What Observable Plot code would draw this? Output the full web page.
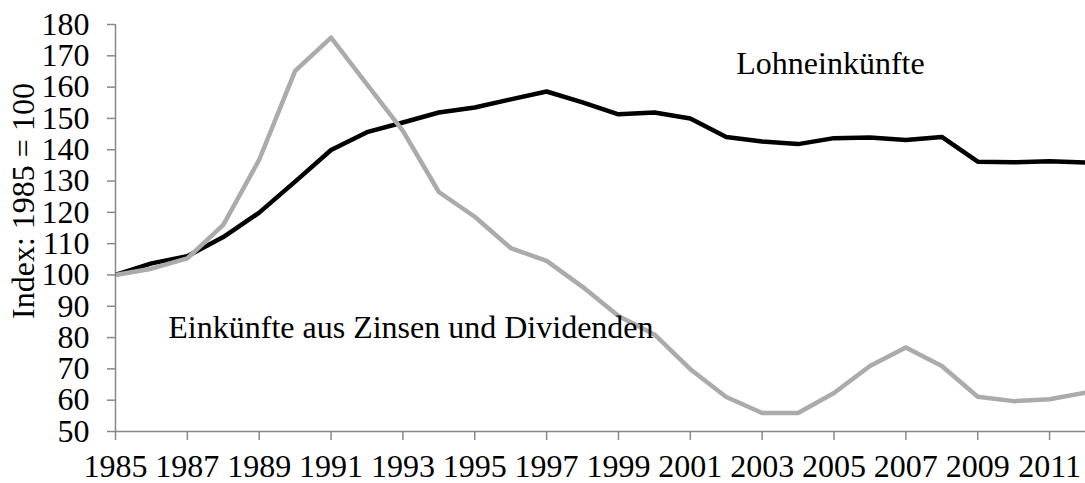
<!DOCTYPE html>
<html>
<head>
<meta charset="utf-8">
<script src="https://cdn.jsdelivr.net/npm/d3@7"></script>
<script src="https://cdn.jsdelivr.net/npm/@observablehq/plot@0.6"></script>
<style>
  html, body { margin: 0; padding: 0; background: #ffffff; }
</style>
</head>
<body>
<div id="chart"></div>
<script>
const years = [1985, 1986, 1987, 1988, 1989, 1990, 1991, 1992, 1993, 1994, 1995, 1996, 1997, 1998,
               1999, 2000, 2001, 2002, 2003, 2004, 2005, 2006, 2007, 2008, 2009, 2010, 2011, 2012];
const lohn = [100, 103.7, 106, 112.1, 119.9, 129.8, 139.9, 145.6, 148.7, 151.9, 153.5, 156.1, 158.6, 155.1,
              151.3, 151.9, 150.0, 144.1, 142.6, 141.8, 143.7, 143.9, 143.1, 144.1, 136.2, 136.0, 136.3, 135.9];
const zinsen = [100, 102, 105.3, 116, 136.8, 165.2, 175.8, 160.9, 146, 126.5, 118.6, 108.6, 104.5, 96.2,
                86.9, 81.0, 69.9, 61.0, 55.9, 55.9, 62.3, 70.9, 76.8, 70.9, 61.1, 59.7, 60.3, 62.4];
const xTicks = [1985, 1987, 1989, 1991, 1993, 1995, 1997, 1999, 2001, 2003, 2005, 2007, 2009, 2011];
const yTicks = [50, 60, 70, 80, 90, 100, 110, 120, 130, 140, 150, 160, 170, 180];
const yLabel = "Index: 1985 = 100";
const seriesLabels = [
  {text: "Lohneinkünfte", year: 2002.28, value: 164.2},
  {text: "Einkünfte aus Zinsen und Dividenden", year: 1986.47, value: 79.9}
];

const lohnData = years.map((y, i) => ({year: y, value: lohn[i]}));
const zinsData = years.map((y, i) => ({year: y, value: zinsen[i]}));

const chart = Plot.plot({
  width: 1085,
  height: 483,
  marginLeft: 115,
  marginRight: 0,
  marginTop: 24,
  marginBottom: 52,
  style: {
    fontFamily: "'Liberation Serif', 'Times New Roman', serif",
    fontSize: "32px",
    color: "black",
    background: "white",
    overflow: "visible"
  },
  x: {domain: [1985, 2012], label: null},
  y: {domain: [50, 180], label: null},
  marks: [
    Plot.ruleX([1985], {stroke: "#888888", strokeWidth: 1.5}),
    Plot.ruleY([50], {stroke: "#888888", strokeWidth: 1.5}),
    Plot.axisY({ticks: yTicks, tickSize: 8, tickPadding: 18, stroke: "#888888", strokeWidth: 1.5,
                fill: "black", label: null, fontSize: 32}),
    Plot.axisX({ticks: xTicks, tickSize: 9, tickPadding: 14, stroke: "#888888", strokeWidth: 1.5,
                fill: "black", label: null, tickFormat: d => String(d), fontSize: 32}),
    Plot.line(lohnData, {x: "year", y: "value", stroke: "#000000", strokeWidth: 4.5,
                         strokeLinejoin: "round", strokeLinecap: "butt"}),
    Plot.line(zinsData, {x: "year", y: "value", stroke: "#ababab", strokeWidth: 4.5,
                         strokeLinejoin: "round", strokeLinecap: "butt"}),
    Plot.text(seriesLabels, {x: "year", y: "value", text: "text", textAnchor: "start",
                             lineAnchor: "bottom", fill: "black", fontSize: 32}),
    Plot.text([yLabel], {frameAnchor: "left", dx: -82, dy: -27, rotate: -90, text: d => d,
                         textAnchor: "middle", lineAnchor: "bottom", fill: "black", fontSize: 32})
  ]
});
document.getElementById("chart").appendChild(chart);
</script>
</body>
</html>
